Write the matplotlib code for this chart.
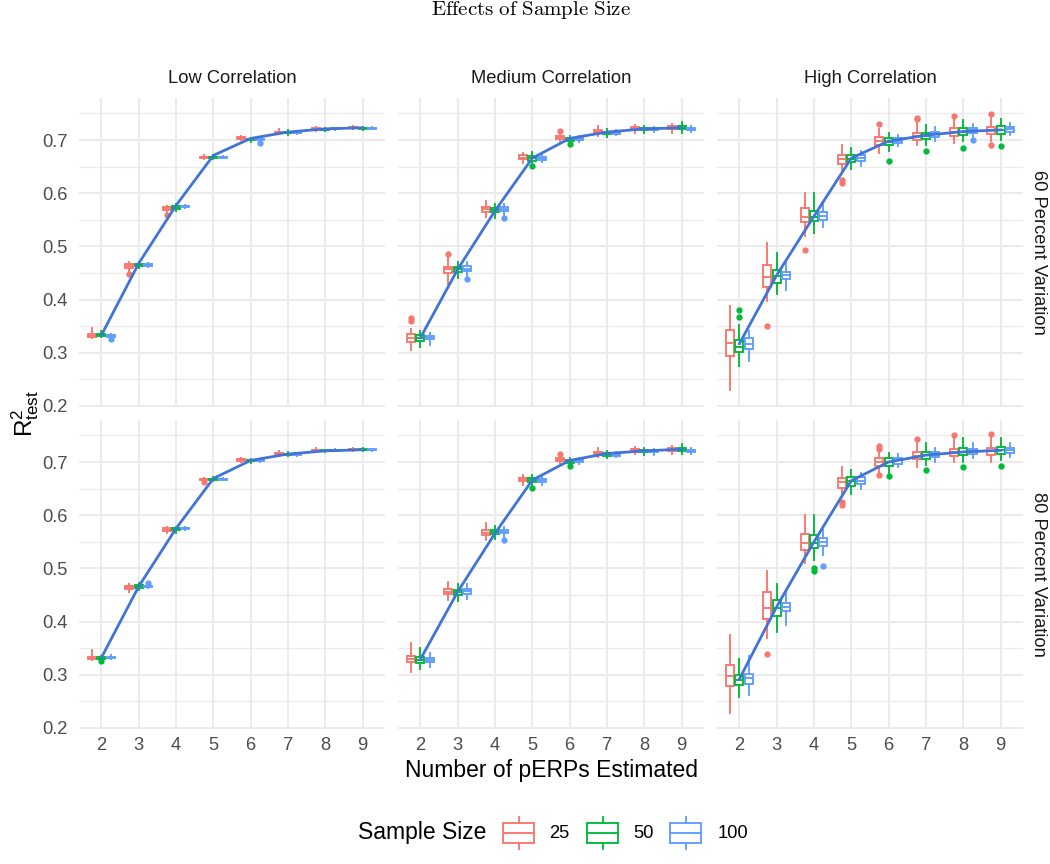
import matplotlib
matplotlib.use("Agg")
import matplotlib.pyplot as plt
from matplotlib.patches import Rectangle

plt.rcParams['font.family'] = ['Liberation Sans', 'DejaVu Sans']
plt.rcParams['mathtext.fontset'] = 'custom'
plt.rcParams['mathtext.rm'] = 'Liberation Sans'
plt.rcParams['mathtext.it'] = 'Liberation Sans:italic'

# ---- data ----
k_values = [2, 3, 4, 5, 6, 7, 8, 9]
sample_sizes = ['25', '50', '100']
colors = ['#F8766D', '#00BA38', '#619CFF']
col_titles = ['Low Correlation', 'Medium Correlation', 'High Correlation']
row_titles = ['60 Percent Variation', '80 Percent Variation']

# rows of each array: sample size 25, 50, 100 ; columns: k = 2..9
# Low correlation, 60 percent
low60_lo = [[.327, .450, .561, .664, .700, .711, .717, .720],
            [.330, .459, .566, .664, .697, .709, .717, .719],
            [.327, .462, .572, .666, .696, .711, .719, .720]]
low60_q1 = [[.329, .460, .569, .666, .702, .713, .719, .722],
            [.331, .463, .571, .667, .700, .713, .719, .721],
            [.330, .464, .574, .667, .700, .713, .720, .721]]
low60_med = [[.332, .463, .572, .668, .704, .715, .721, .723],
             [.334, .465, .573, .668, .701, .714, .720, .722],
             [.332, .465, .575, .668, .701, .714, .721, .722]]
low60_q3 = [[.335, .466, .574, .669, .705, .716, .722, .724],
            [.336, .467, .575, .669, .702, .716, .721, .723],
            [.334, .467, .576, .669, .702, .715, .722, .723]]
low60_hi = [[.346, .470, .576, .671, .708, .720, .725, .726],
            [.340, .470, .579, .671, .704, .718, .722, .725],
            [.335, .468, .578, .670, .703, .716, .723, .724]]
low60_out = [(0, 3, .448), (0, 4, .559), (2, 2, .326), (2, 6, .695)]
low60_line = [.333, .468, .577, .671, .703, .715, .721, .723]

# Low correlation, 80 percent
low80_lo = [[.327, .455, .566, .662, .700, .712, .718, .721],
            [.327, .460, .566, .665, .699, .711, .718, .720],
            [.329, .463, .572, .666, .700, .712, .720, .721]]
low80_q1 = [[.330, .462, .571, .666, .702, .714, .720, .722],
            [.330, .463, .572, .667, .701, .714, .720, .722],
            [.331, .465, .574, .667, .702, .714, .721, .722]]
low80_med = [[.332, .465, .573, .668, .704, .716, .722, .724],
             [.331, .466, .574, .668, .703, .715, .721, .723],
             [.332, .466, .575, .668, .703, .715, .722, .723]]
low80_q3 = [[.334, .467, .575, .669, .706, .717, .723, .725],
            [.333, .468, .576, .669, .704, .716, .722, .724],
            [.333, .467, .576, .669, .704, .716, .723, .724]]
low80_hi = [[.346, .470, .577, .670, .708, .720, .726, .727],
            [.336, .472, .578, .671, .706, .718, .723, .726],
            [.338, .470, .578, .670, .706, .717, .724, .725]]
low80_out = [(0, 5, .663), (1, 2, .326), (2, 3, .472)]
low80_line = [.332, .466, .575, .669, .703, .715, .721, .723]

# Medium correlation, 60 percent
med60_lo = [[.305, .430, .555, .656, .699, .708, .714, .714],
            [.310, .440, .554, .655, .694, .706, .714, .714],
            [.315, .445, .557, .658, .697, .709, .715, .716]]
med60_q1 = [[.321, .450, .565, .664, .702, .713, .719, .720],
            [.323, .451, .564, .661, .698, .711, .718, .720],
            [.325, .453, .566, .663, .700, .712, .718, .719]]
med60_med = [[.328, .457, .570, .667, .705, .716, .722, .723],
             [.328, .457, .568, .666, .701, .713, .720, .723],
             [.328, .458, .570, .666, .702, .714, .720, .721]]
med60_q3 = [[.335, .462, .574, .671, .707, .719, .724, .726],
            [.333, .462, .573, .670, .703, .716, .722, .726],
            [.332, .463, .574, .669, .704, .716, .722, .723]]
med60_hi = [[.345, .478, .585, .676, .712, .726, .729, .731],
            [.340, .470, .580, .677, .708, .720, .727, .733],
            [.337, .470, .580, .674, .707, .719, .725, .726]]
med60_out = [(0, 2, .360), (0, 2, .365), (0, 3, .486), (2, 3, .438),
             (2, 4, .553), (0, 6, .717), (1, 5, .652), (1, 6, .692)]
med60_line = [.328, .457, .567, .666, .703, .715, .721, .723]

# Medium correlation, 80 percent
med80_lo = [[.305, .440, .553, .656, .698, .709, .715, .715],
            [.310, .438, .556, .655, .693, .708, .714, .716],
            [.315, .443, .559, .657, .697, .709, .714, .716]]
med80_q1 = [[.324, .451, .562, .664, .702, .714, .719, .721],
            [.323, .450, .564, .662, .699, .712, .718, .721],
            [.324, .452, .566, .663, .700, .712, .718, .719]]
med80_med = [[.330, .456, .567, .667, .704, .717, .722, .723],
             [.328, .455, .568, .667, .701, .715, .721, .724],
             [.328, .457, .569, .666, .702, .714, .720, .721]]
med80_q3 = [[.336, .462, .573, .670, .707, .719, .725, .726],
            [.333, .460, .572, .670, .703, .717, .723, .727],
            [.332, .462, .573, .669, .704, .716, .722, .723]]
med80_hi = [[.360, .475, .585, .676, .712, .727, .729, .731],
            [.350, .470, .580, .675, .708, .720, .727, .734],
            [.340, .470, .578, .674, .707, .719, .725, .726]]
med80_out = [(2, 4, .553), (0, 6, .716), (1, 5, .651), (1, 6, .692)]
med80_line = [.329, .456, .566, .666, .703, .716, .721, .724]

# High correlation, 60 percent
high60_lo = [[.230, .397, .520, .640, .675, .690, .695, .698],
             [.275, .410, .525, .645, .680, .690, .698, .700],
             [.285, .418, .537, .652, .688, .698, .705, .709]]
high60_q1 = [[.293, .423, .545, .655, .690, .700, .708, .711],
             [.301, .432, .547, .658, .691, .702, .709, .712],
             [.307, .439, .550, .661, .694, .706, .713, .716]]
high60_med = [[.319, .443, .556, .665, .698, .707, .716, .718],
              [.311, .444, .556, .665, .697, .707, .715, .719],
              [.317, .446, .558, .667, .699, .711, .718, .721]]
high60_q3 = [[.343, .465, .572, .672, .705, .714, .722, .725],
             [.324, .456, .566, .672, .703, .713, .722, .726],
             [.327, .452, .565, .672, .703, .715, .722, .725]]
high60_hi = [[.387, .506, .600, .690, .720, .735, .740, .742],
             [.352, .488, .600, .685, .714, .728, .738, .740],
             [.340, .468, .578, .680, .710, .725, .730, .732]]
high60_out = [(1, 2, .380), (1, 2, .368), (0, 3, .350), (0, 4, .493),
              (0, 5, .625), (0, 5, .620), (0, 6, .730), (1, 6, .660),
              (0, 7, .740), (0, 7, .742), (1, 7, .680), (0, 8, .745),
              (1, 8, .685), (2, 8, .700), (0, 9, .748), (0, 9, .690),
              (1, 9, .688)]
high60_line = [.317, .446, .557, .666, .698, .709, .716, .719]

# High correlation, 80 percent
high80_lo = [[.228, .370, .510, .635, .680, .690, .700, .700],
             [.259, .381, .515, .640, .680, .695, .700, .703],
             [.262, .394, .525, .650, .690, .700, .708, .710]]
high80_q1 = [[.278, .405, .535, .652, .692, .705, .711, .713],
             [.281, .410, .538, .655, .692, .706, .713, .715],
             [.283, .420, .542, .659, .697, .709, .716, .717]]
high80_med = [[.298, .425, .548, .663, .700, .712, .718, .720],
              [.290, .425, .548, .664, .700, .713, .719, .722],
              [.293, .428, .550, .665, .703, .714, .720, .722]]
high80_q3 = [[.318, .455, .565, .670, .707, .718, .725, .727],
             [.300, .440, .562, .672, .707, .719, .727, .729],
             [.301, .435, .558, .671, .707, .719, .725, .727]]
high80_hi = [[.375, .495, .600, .690, .720, .735, .745, .745],
             [.330, .470, .600, .685, .717, .735, .745, .745],
             [.335, .460, .572, .680, .715, .727, .735, .735]]
high80_out = [(0, 3, .339), (1, 4, .500), (1, 4, .495), (2, 4, .505),
              (0, 5, .625), (0, 5, .620), (0, 6, .730), (0, 6, .725),
              (0, 6, .675), (1, 6, .673), (0, 7, .744), (1, 7, .685),
              (0, 8, .750), (1, 8, .690), (0, 9, .752), (1, 9, .692)]
high80_line = [.292, .428, .550, .665, .700, .713, .719, .722]

panels = [
    [(low60_lo, low60_q1, low60_med, low60_q3, low60_hi, low60_out, low60_line),
     (med60_lo, med60_q1, med60_med, med60_q3, med60_hi, med60_out, med60_line),
     (high60_lo, high60_q1, high60_med, high60_q3, high60_hi, high60_out, high60_line)],
    [(low80_lo, low80_q1, low80_med, low80_q3, low80_hi, low80_out, low80_line),
     (med80_lo, med80_q1, med80_med, med80_q3, med80_hi, med80_out, med80_line),
     (high80_lo, high80_q1, high80_med, high80_q3, high80_hi, high80_out, high80_line)],
]

W, H = 1050, 864
fig = plt.figure(figsize=(W / 100, H / 100), dpi=100)

col_left = [79, 398, 717]   # pixels
col_w = 306
row_top = [98, 420]
row_h = 309

grid_col = '#EBEBEB'
text_col = '#4D4D4D'
offsets = [-0.25, 0.0, 0.25]
box_lw = 1.35

axes = []
for r in range(2):
    for c in range(3):
        ax = fig.add_axes([col_left[c] / W, 1 - (row_top[r] + row_h) / H, col_w / W, row_h / H])
        axes.append(ax)
        lo, q1, med, q3, hi, outs, line_vals = panels[r][c]
        for g in range(3):
            stats = []
            for i, k in enumerate(k_values):
                fl = [v for (gg, kk, v) in outs if gg == g and kk == k]
                stats.append(dict(med=med[g][i], q1=q1[g][i], q3=q3[g][i],
                                  whislo=lo[g][i], whishi=hi[g][i], fliers=fl))
            col = colors[g]
            ax.bxp(stats, positions=[k + offsets[g] for k in k_values], widths=0.22,
                   patch_artist=True, showcaps=False, manage_ticks=False,
                   boxprops=dict(facecolor='white', edgecolor=col, linewidth=box_lw),
                   medianprops=dict(color=col, linewidth=box_lw),
                   whiskerprops=dict(color=col, linewidth=box_lw),
                   flierprops=dict(marker='o', markerfacecolor=col, markeredgecolor=col,
                                   markersize=3.5, linestyle='none'),
                   zorder=3)
        ax.plot(k_values, line_vals, color='#4174D9', linewidth=2.0, zorder=5)

        ax.set_xlim(1.4, 9.6)
        ax.set_ylim(0.198, 0.779)
        ax.set_xticks(k_values)
        ax.set_yticks([0.2, 0.3, 0.4, 0.5, 0.6, 0.7])
        ax.set_yticks([0.25, 0.35, 0.45, 0.55, 0.65, 0.75], minor=True)
        ax.grid(True, which='major', color=grid_col, linewidth=1.5, zorder=0)
        ax.grid(True, which='minor', axis='y', color=grid_col, linewidth=0.9, zorder=0)
        ax.set_axisbelow(True)
        for s in ax.spines.values():
            s.set_visible(False)
        ax.tick_params(axis='both', which='both', length=0, labelsize=13.2,
                       labelcolor=text_col)
        ax.tick_params(axis='y', pad=8)
        ax.tick_params(axis='x', pad=6)
        if c != 0:
            ax.tick_params(axis='y', labelleft=False)
        else:
            ax.set_yticklabels(['0.2', '0.3', '0.4', '0.5', '0.6', '0.7'])
        if r != 1:
            ax.tick_params(axis='x', labelbottom=False)
        if r == 0:
            ax.text(0.5, 1 + 20 / row_h, col_titles[c], transform=ax.transAxes,
                    ha='center', va='center', fontsize=13.2, color='#1A1A1A')
        if c == 2:
            ax.text(1 + 16 / col_w, 0.5, row_titles[r], transform=ax.transAxes,
                    ha='center', va='center', rotation=-90, fontsize=13.2, color='#1A1A1A')

# titles and labels
fig.text(531 / W, 1 - 10 / H, r'$\mathrm{Effects\ of\ Sample\ Size}$', ha='center',
         va='center', fontsize=15, math_fontfamily='cm', color='black')
fig.text(551.5 / W, 1 - 771 / H, 'Number of pERPs Estimated', ha='center', va='center',
         fontsize=16.5, color='black')
fig.text(25 / W, 1 - 413 / H, r'$\mathrm{R}^2_{\mathrm{test}}$', ha='center', va='center',
         rotation=90, fontsize=17.5, color='black')

# legend drawn in pixel space
lg = fig.add_axes([0, 0, 1, 1])
lg.set_xlim(0, W)
lg.set_ylim(H, 0)
lg.axis('off')
lg.patch.set_alpha(0)
ly = 833
lg.text(358, ly, 'Sample Size', ha='left', va='center', fontsize=16.5, color='black')
key_left = [503, 587, 670]
label_left = [549, 633, 718]
for g in range(3):
    x0 = key_left[g]
    lg.add_patch(Rectangle((x0, ly - 10), 31, 20, facecolor='white',
                           edgecolor=colors[g], linewidth=box_lw))
    lg.plot([x0, x0 + 31], [ly, ly], color=colors[g], linewidth=box_lw)
    lg.plot([x0 + 15.5, x0 + 15.5], [ly - 16, ly - 10], color=colors[g], linewidth=box_lw)
    lg.plot([x0 + 15.5, x0 + 15.5], [ly + 10, ly + 16], color=colors[g], linewidth=box_lw)
    lg.text(label_left[g], ly, sample_sizes[g], ha='left', va='center', fontsize=13.2,
            color='black')

fig.savefig('out.png', dpi=100, facecolor='white')
